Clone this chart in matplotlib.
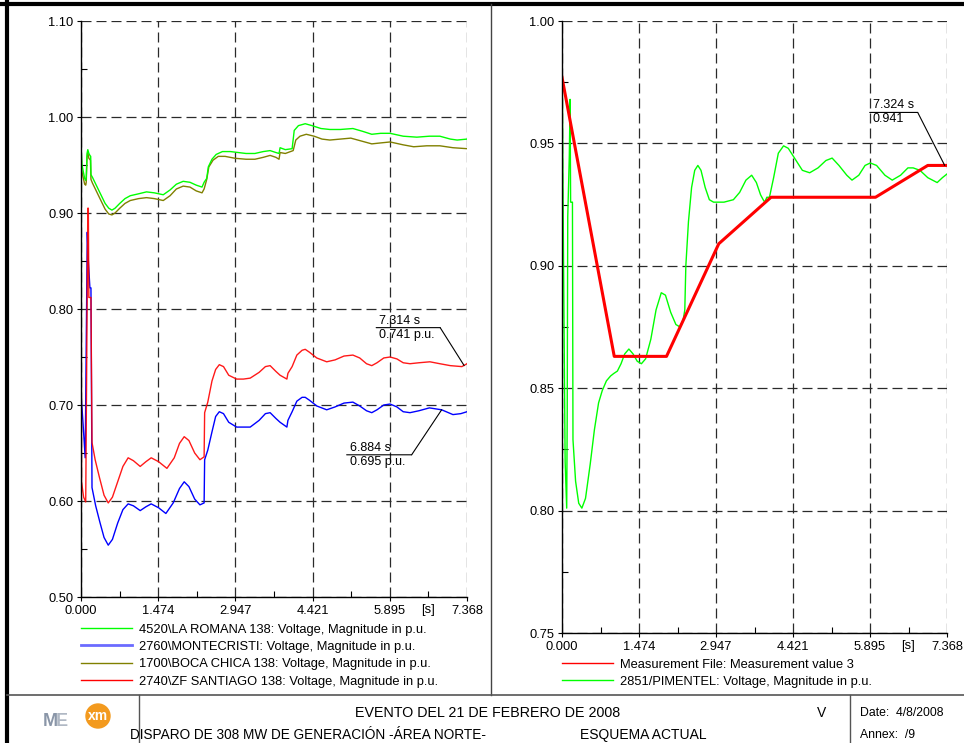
import matplotlib
matplotlib.use('Agg')
import matplotlib.pyplot as plt
from matplotlib.lines import Line2D
from matplotlib.patches import Ellipse
from matplotlib.transforms import offset_copy

plt.rcParams['font.family'] = ['Liberation Sans', 'DejaVu Sans']

FIG_W, FIG_H = 964, 743
FS = 9.3

# time axis shared by both panels
T_END = 7.368
x_ticks = [0.000, 1.474, 2.947, 4.421, 5.895, 7.368]
x_tick_labels = ['0.000', '1.474', '2.947', '4.421', '5.895', '7.368']

# left panel: bus voltages (p.u.)
left_y_ticks = [0.50, 0.60, 0.70, 0.80, 0.90, 1.00, 1.10]
left_labels = [
    '4520\\LA ROMANA 138: Voltage, Magnitude in p.u.',
    '2760\\MONTECRISTI: Voltage, Magnitude in p.u.',
    '1700\\BOCA CHICA 138: Voltage, Magnitude in p.u.',
    '2740\\ZF SANTIAGO 138: Voltage, Magnitude in p.u.',
]

romana_t = [0.00, 0.02, 0.04, 0.07, 0.09, 0.10, 0.115, 0.13, 0.15, 0.17, 0.185, 0.19, 0.22,
            0.30, 0.38, 0.46, 0.53, 0.59, 0.65, 0.74, 0.84, 0.94, 1.10, 1.25, 1.40, 1.57,
            1.70, 1.82, 1.95, 2.08, 2.20, 2.31, 2.35, 2.40, 2.43, 2.50, 2.58, 2.70, 2.85,
            3.00, 3.15, 3.32, 3.48, 3.61, 3.72, 3.78, 3.80, 3.90, 4.03, 4.07, 4.15, 4.28,
            4.41, 4.58, 4.75, 4.95, 5.19, 5.38, 5.55, 5.72, 5.90, 6.15, 6.41, 6.65, 6.85,
            7.05, 7.18, 7.368]
romana_v = [0.968, 0.950, 0.944, 0.936, 0.934, 0.937, 0.962, 0.966, 0.962, 0.960, 0.959,
            0.940, 0.937, 0.928, 0.919, 0.910, 0.905, 0.903, 0.905, 0.910, 0.915, 0.918,
            0.920, 0.922, 0.921, 0.919, 0.924, 0.930, 0.933, 0.932, 0.929, 0.927, 0.932,
            0.936, 0.948, 0.956, 0.961, 0.964, 0.964, 0.963, 0.962, 0.962, 0.964, 0.965,
            0.963, 0.962, 0.968, 0.966, 0.967, 0.986, 0.991, 0.993, 0.991, 0.988, 0.987,
            0.987, 0.988, 0.985, 0.982, 0.983, 0.983, 0.980, 0.979, 0.980, 0.980, 0.977,
            0.976, 0.977]

bocachica_t = [0.00, 0.03, 0.07, 0.09, 0.10, 0.115, 0.13, 0.15, 0.18, 0.19, 0.22, 0.30, 0.38,
               0.46, 0.53, 0.59, 0.65, 0.74, 0.84, 0.94, 1.10, 1.25, 1.40, 1.57, 1.70, 1.82,
               1.95, 2.08, 2.20, 2.31, 2.35, 2.40, 2.44, 2.52, 2.62, 2.75, 2.94, 3.15, 3.32,
               3.48, 3.61, 3.72, 3.78, 3.80, 3.90, 4.05, 4.10, 4.18, 4.30, 4.45, 4.60, 4.75,
               4.95, 5.15, 5.35, 5.55, 5.72, 5.90, 6.15, 6.35, 6.60, 6.85, 7.10, 7.368]
bocachica_v = [0.948, 0.940, 0.930, 0.929, 0.932, 0.958, 0.963, 0.957, 0.955, 0.935, 0.931,
               0.922, 0.913, 0.904, 0.899, 0.898, 0.900, 0.905, 0.910, 0.913, 0.915, 0.916,
               0.915, 0.913, 0.918, 0.925, 0.928, 0.927, 0.923, 0.921, 0.925, 0.935, 0.948,
               0.955, 0.959, 0.959, 0.957, 0.956, 0.956, 0.958, 0.960, 0.958, 0.956, 0.963,
               0.962, 0.965, 0.976, 0.980, 0.982, 0.980, 0.977, 0.976, 0.977, 0.978, 0.975,
               0.972, 0.973, 0.974, 0.971, 0.969, 0.970, 0.970, 0.968, 0.967]

santiago_t = [0.00, 0.01, 0.05, 0.09, 0.13, 0.14, 0.15, 0.19, 0.21, 0.27, 0.35, 0.44, 0.52,
              0.60, 0.70, 0.80, 0.90, 1.00, 1.13, 1.24, 1.34, 1.48, 1.64, 1.78, 1.88, 1.97,
              2.06, 2.17, 2.27, 2.35, 2.36, 2.42, 2.50, 2.57, 2.64, 2.72, 2.82, 2.97, 3.10,
              3.23, 3.40, 3.52, 3.61, 3.72, 3.80, 3.93, 3.95, 4.03, 4.12, 4.22, 4.28, 4.36,
              4.50, 4.69, 4.85, 5.02, 5.19, 5.32, 5.45, 5.55, 5.65, 5.78, 5.90, 6.03, 6.15,
              6.28, 6.45, 6.66, 6.85, 7.05, 7.27, 7.368]
santiago_v = [0.945, 0.620, 0.604, 0.599, 0.905, 0.905, 0.812, 0.812, 0.661, 0.643, 0.625,
              0.606, 0.598, 0.604, 0.620, 0.636, 0.645, 0.642, 0.636, 0.641, 0.645, 0.641,
              0.634, 0.645, 0.660, 0.667, 0.663, 0.650, 0.643, 0.646, 0.692, 0.703, 0.725,
              0.737, 0.742, 0.740, 0.731, 0.727, 0.727, 0.728, 0.734, 0.740, 0.741, 0.735,
              0.731, 0.727, 0.733, 0.740, 0.752, 0.757, 0.758, 0.755, 0.749, 0.745, 0.747,
              0.751, 0.752, 0.749, 0.743, 0.741, 0.744, 0.749, 0.750, 0.748, 0.744, 0.743,
              0.744, 0.745, 0.743, 0.741, 0.740, 0.743]

montecristi_t = [0.00, 0.04, 0.08, 0.12, 0.14, 0.17, 0.19, 0.21, 0.28, 0.36, 0.44, 0.52, 0.60,
                 0.70, 0.80, 0.90, 1.00, 1.13, 1.24, 1.34, 1.48, 1.62, 1.76, 1.88, 1.97, 2.06,
                 2.17, 2.27, 2.35, 2.36, 2.42, 2.50, 2.57, 2.64, 2.72, 2.82, 2.97, 3.10, 3.23,
                 3.40, 3.52, 3.61, 3.72, 3.80, 3.93, 3.95, 4.03, 4.12, 4.22, 4.28, 4.36, 4.50,
                 4.69, 4.85, 5.02, 5.19, 5.32, 5.45, 5.55, 5.65, 5.78, 5.90, 6.03, 6.15, 6.28,
                 6.45, 6.65, 6.884, 7.10, 7.25, 7.368]
montecristi_v = [0.712, 0.680, 0.645, 0.880, 0.850, 0.822, 0.822, 0.614, 0.595, 0.578, 0.562,
                 0.554, 0.560, 0.577, 0.591, 0.597, 0.595, 0.590, 0.594, 0.597, 0.593, 0.587,
                 0.598, 0.613, 0.620, 0.615, 0.602, 0.596, 0.598, 0.643, 0.653, 0.672, 0.688,
                 0.693, 0.691, 0.682, 0.677, 0.677, 0.677, 0.684, 0.691, 0.692, 0.686, 0.682,
                 0.677, 0.684, 0.693, 0.704, 0.708, 0.708, 0.705, 0.699, 0.695, 0.698, 0.702,
                 0.703, 0.699, 0.694, 0.692, 0.695, 0.700, 0.701, 0.698, 0.693, 0.692, 0.694,
                 0.697, 0.695, 0.690, 0.691, 0.693]

# right panel: measured vs simulated voltage at PIMENTEL
right_y_ticks = [0.75, 0.80, 0.85, 0.90, 0.95, 1.00]
right_labels = [
    'Measurement File: Measurement value 3',
    '2851/PIMENTEL: Voltage, Magnitude in p.u.',
]
measured_t = [0.0, 1.0, 2.0, 3.0, 4.0, 5.0, 6.0, 7.0, 7.368]
measured_v = [0.977, 0.863, 0.863, 0.909, 0.928, 0.928, 0.928, 0.941, 0.941]

pimentel_t = [0.00, 0.03, 0.06, 0.09, 0.10, 0.11, 0.14, 0.155, 0.165, 0.19, 0.20, 0.21, 0.26,
              0.32, 0.38, 0.45, 0.54, 0.62, 0.70, 0.77, 0.85, 0.93, 0.99, 1.06, 1.13, 1.20,
              1.28, 1.36, 1.44, 1.52, 1.60, 1.70, 1.80, 1.90, 1.98, 2.08, 2.18, 2.26, 2.32,
              2.35, 2.37, 2.42, 2.48, 2.54, 2.60, 2.66, 2.74, 2.82, 2.90, 3.10, 3.28, 3.40,
              3.52, 3.63, 3.72, 3.80, 3.85, 3.88, 3.92, 3.97, 4.05, 4.14, 4.24, 4.33, 4.45,
              4.60, 4.74, 4.90, 5.05, 5.17, 5.30, 5.45, 5.55, 5.68, 5.80, 5.90, 6.02, 6.18,
              6.32, 6.48, 6.62, 6.72, 6.85, 7.00, 7.18, 7.28, 7.368]
pimentel_v = [0.991, 0.900, 0.820, 0.801, 0.840, 0.920, 0.945, 0.968, 0.926, 0.926, 0.926,
              0.829, 0.812, 0.803, 0.801, 0.805, 0.819, 0.833, 0.844, 0.849, 0.853, 0.855,
              0.856, 0.857, 0.860, 0.864, 0.866, 0.864, 0.861, 0.860, 0.862, 0.870, 0.882,
              0.889, 0.888, 0.881, 0.876, 0.875, 0.878, 0.882, 0.900, 0.918, 0.932, 0.939,
              0.941, 0.939, 0.932, 0.927, 0.926, 0.926, 0.927, 0.930, 0.935, 0.937, 0.934,
              0.929, 0.927, 0.926, 0.928, 0.928, 0.936, 0.946, 0.949, 0.948, 0.944, 0.939,
              0.938, 0.940, 0.943, 0.944, 0.941, 0.937, 0.935, 0.937, 0.941, 0.942, 0.941,
              0.937, 0.935, 0.937, 0.940, 0.940, 0.939, 0.936, 0.934, 0.936, 0.9375]


def px(x, y):
    """Convert pixel position (from top-left) to figure fraction."""
    return x / FIG_W, 1 - y / FIG_H


def style_axes(ax, y_ticks, y_minor, s_x):
    ax.set_xlim(0, T_END)
    ax.set_ylim(y_ticks[0], y_ticks[-1])
    ax.set_xticks(x_ticks)
    ax.set_xticklabels(x_tick_labels)
    ax.set_xticks([(a + b) / 2 for a, b in zip(x_ticks[:-1], x_ticks[1:])], minor=True)
    ax.set_yticks(y_ticks)
    ax.set_yticklabels(['%.2f' % v for v in y_ticks])
    ax.set_yticks(y_minor, minor=True)
    for side in ['top', 'right']:
        ax.spines[side].set_visible(False)
    for side in ['left', 'bottom']:
        ax.spines[side].set_linewidth(1.0)
        ax.spines[side].set_color('black')
    ax.tick_params(which='major', direction='out', length=3, width=0.8,
                   labelsize=FS, pad=2.5)
    ax.tick_params(which='minor', direction='in', length=4, width=0.8)
    ax.grid(True, which='major', color='#2a2a2a', linewidth=0.9,
            linestyle=(0, (8, 4)))
    ax.set_axisbelow(True)
    ax.text(s_x, -0.012, '[s]', transform=ax.get_xaxis_transform(),
            ha='center', va='top', fontsize=FS)


def leader(ax, fig, t, v, knee, left, txt_top, txt_bottom):
    """Value readout with a leader line, offsets given in pixels."""
    kx, ky = knee
    ax.annotate('', xy=(t, v), xytext=(kx, ky), textcoords='offset pixels',
                arrowprops=dict(arrowstyle='-', color='black', lw=0.8,
                                shrinkA=0, shrinkB=0))
    tk = offset_copy(ax.transData, fig=fig, x=kx, y=ky, units='dots')
    tl = offset_copy(ax.transData, fig=fig, x=left, y=ky, units='dots')
    ax.annotate('', xy=(t, v), xycoords=tk, xytext=(t, v), textcoords=tl,
                arrowprops=dict(arrowstyle='-', color='black', lw=0.8,
                                shrinkA=0, shrinkB=0))
    tt = offset_copy(ax.transData, fig=fig, x=left + 3, y=ky + 1, units='dots')
    tb = offset_copy(ax.transData, fig=fig, x=left + 3, y=ky - 1, units='dots')
    ax.text(t, v, txt_top, transform=tt, ha='left', va='bottom', fontsize=9)
    ax.text(t, v, txt_bottom, transform=tb, ha='left', va='top', fontsize=9)


def draw_frame(fig):
    lines = [
        ([0, FIG_W], [3.5, 3.5], 'black', 3.0),
        ([6.5, 6.5], [0, FIG_H], 'black', 3.0),
        ([491, 491], [3.5, 695], '#444444', 1.0),
        ([6.5, FIG_W], [695, 695], '#555555', 1.2),
        ([139, 139], [695, FIG_H], '#555555', 1.0),
        ([850, 850], [695, FIG_H], '#555555', 1.0),
    ]
    for xs, ys, color, lw in lines:
        fx = [x / FIG_W for x in xs]
        fy = [1 - y / FIG_H for y in ys]
        fig.add_artist(Line2D(fx, fy, color=color, linewidth=lw,
                              transform=fig.transFigure))


def draw_title_block(fig):
    fig.text(*px(488, 713), 'EVENTO DEL 21 DE FEBRERO DE 2008', ha='center',
             va='center', fontsize=10.3)
    fig.text(*px(130, 735), 'DISPARO DE 308 MW DE GENERACIÓN -ÁREA NORTE-', ha='left',
             va='center', fontsize=9.8)
    fig.text(*px(580, 735), 'ESQUEMA ACTUAL', ha='left', va='center', fontsize=10.0)
    fig.text(*px(822, 713), 'V', ha='center', va='center', fontsize=10.0)
    fig.text(*px(860, 713), 'Date:  4/8/2008', ha='left', va='center', fontsize=8.8)
    fig.text(*px(860, 735), 'Annex:  /9', ha='left', va='center', fontsize=8.8)
    # company logos
    fig.text(*px(50, 721), 'M', ha='center', va='center', fontsize=13,
             color='#8a96a8', fontweight='bold')
    fig.text(*px(62, 721), 'E', ha='center', va='center', fontsize=13,
             color='#b0b8c4', fontweight='bold')
    cx, cy = px(98, 716)
    fig.add_artist(Ellipse((cx, cy), 24 / FIG_W, 24 / FIG_H, color='#f39a1e',
                           transform=fig.transFigure))
    fig.text(cx, cy, 'xm', ha='center', va='center', fontsize=10,
             color='white', fontweight='bold')


def plot_chart():
    fig = plt.figure(figsize=(FIG_W / 100, FIG_H / 100), dpi=100)

    # left panel
    l0, b0 = px(81, 597)
    l1, b1 = px(467, 21)
    ax1 = fig.add_axes([l0, b0, l1 - l0, b1 - b0])
    style_axes(ax1, left_y_ticks, [0.55, 0.65, 0.75, 0.85, 0.95, 1.05], 6.631)
    ax1.plot(bocachica_t, bocachica_v, color='#808000', lw=1.0)
    ax1.plot(romana_t, romana_v, color='#00ff00', lw=1.0)
    ax1.plot(montecristi_t, montecristi_v, color='#0000ff', lw=1.0)
    ax1.plot(santiago_t, santiago_v, color='#ff0000', lw=1.0, alpha=0.9)
    leader(ax1, fig, 7.314, 0.741, (-24, 38), -88, '7.314 s', '0.741 p.u.')
    leader(ax1, fig, 6.884, 0.695, (-30, -45), -95, '6.884 s', '0.695 p.u.')

    left_handles = [
        Line2D([], [], color='#00ff00', lw=1.0),
        Line2D([], [], color='#6b6bff', lw=2.0),
        Line2D([], [], color='#808000', lw=1.0),
        Line2D([], [], color='#ff0000', lw=1.0),
    ]
    fig.legend(left_handles, left_labels, loc='upper left',
               bbox_to_anchor=px(81, 623.5), frameon=False, fontsize=FS,
               handlelength=3.95, handletextpad=0.54, labelspacing=0.42,
               borderpad=0, borderaxespad=0)

    # right panel
    r0, rb0 = px(562, 633)
    r1, rb1 = px(947, 21)
    ax2 = fig.add_axes([r0, rb0, r1 - r0, rb1 - rb0])
    style_axes(ax2, right_y_ticks, [0.775, 0.825, 0.875, 0.925, 0.975], 6.631)
    ax2.plot(pimentel_t, pimentel_v, color='#00ff00', lw=1.0)
    ax2.plot(measured_t, measured_v, color='#ff0000', lw=2.2)
    leader(ax2, fig, 7.324, 0.941, (-27, 53), -75, '7.324 s', '0.941')

    right_handles = [
        Line2D([], [], color='#ff0000', lw=1.0),
        Line2D([], [], color='#00ff00', lw=1.0),
    ]
    fig.legend(right_handles, right_labels, loc='upper left',
               bbox_to_anchor=px(562, 658.5), frameon=False, fontsize=FS,
               handlelength=3.95, handletextpad=0.54, labelspacing=0.42,
               borderpad=0, borderaxespad=0)

    draw_frame(fig)
    draw_title_block(fig)

    fig.savefig('out.png', dpi=100)


if __name__ == '__main__':
    plot_chart()
